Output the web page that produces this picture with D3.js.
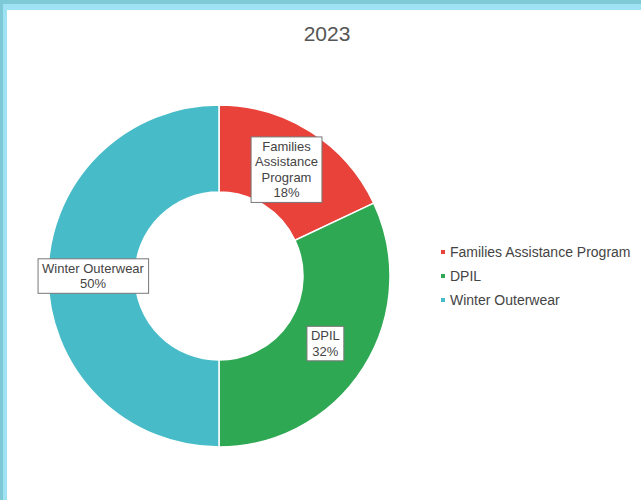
<!DOCTYPE html>
<html><head><meta charset="utf-8">
<script src="https://cdn.jsdelivr.net/npm/d3@7"></script>
<style>html,body{margin:0;padding:0;background:#fff;}svg{display:block;}</style>
</head><body>
<svg id="c" width="641" height="500"></svg>
<script>
const title = "2023";
const categories = ["Families Assistance Program", "DPIL", "Winter Outerwear"];
const labelLines = [["Families","Assistance","Program"],["DPIL"],["Winter Outerwear"]];
const values = [18, 32, 50];
const colors = ["#e8423a", "#2fa853", "#47bcc8"];

const svg = d3.select("#c");
const font = "Liberation Sans, Arial, sans-serif";
// frame
svg.append("rect").attr("x",0).attr("y",0).attr("width",641).attr("height",500).attr("fill","#7dc9d6");
svg.append("rect").attr("x",3).attr("y",4).attr("width",638).attr("height",496).attr("fill","#9fe2f4");
svg.append("rect").attr("x",7).attr("y",10).attr("width",634).attr("height",490).attr("fill","#ffffff");

svg.append("text").attr("x",327).attr("y",41).attr("text-anchor","middle")
  .attr("font-family",font).attr("font-size",21).attr("fill","#555").text(title);

const cx = 219, cy = 276, R = 171, r = 84;
const total = d3.sum(values);
const pie = d3.pie().sort(null).value(d => d)(values);
const arc = d3.arc().innerRadius(r).outerRadius(R);
const labelArc = d3.arc().innerRadius(126).outerRadius(126);
const g = svg.append("g").attr("transform", `translate(${cx},${cy})`);
g.selectAll("path").data(pie).join("path")
  .attr("d", arc).attr("fill", (d,i) => colors[i])
  .attr("stroke","#fff").attr("stroke-width",1.5);

const lh = 15.5;
pie.forEach((d,i) => {
  const [lx, ly] = labelArc.centroid(d);
  const lines = labelLines[i].concat([Math.round(values[i]/total*100) + "%"]);
  const lg = g.append("g").attr("transform", `translate(${lx},${ly})`);
  const t = lg.append("text").attr("font-family",font).attr("font-size",13)
    .attr("fill","#444").attr("text-anchor","middle");
  const y0 = -(lines.length-1)*lh/2;
  lines.forEach((s,k) => t.append("tspan").attr("x",0).attr("y", y0 + k*lh).attr("dy","0.35em").text(s));
  const bb = t.node().getBBox();
  lg.insert("rect","text").attr("x",bb.x-4).attr("y",bb.y-2)
    .attr("width",bb.width+8).attr("height",bb.height+4)
    .attr("fill","#fff").attr("stroke","#777").attr("stroke-width",1);
});

// legend
const leg = svg.append("g").attr("transform","translate(443,252)");
categories.forEach((c,i) => {
  const row = leg.append("g").attr("transform",`translate(0,${i*24})`);
  row.append("rect").attr("x",-2).attr("y",-2).attr("width",4).attr("height",4).attr("fill",colors[i]);
  row.append("text").attr("x",7).attr("y",0).attr("dy","0.35em")
    .attr("font-family",font).attr("font-size",14).attr("fill","#444").text(c);
});
</script>
</body></html>
